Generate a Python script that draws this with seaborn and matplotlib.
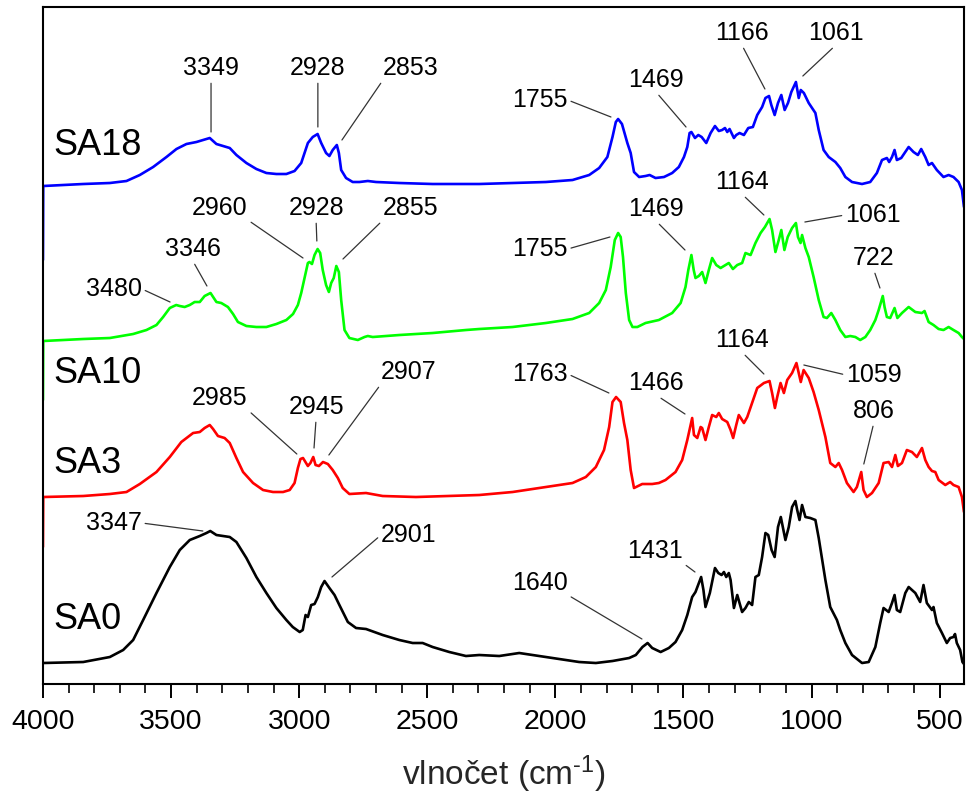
import numpy as np
import pandas as pd
import matplotlib
matplotlib.use("Agg")
import matplotlib.pyplot as plt
from matplotlib.ticker import MultipleLocator
import seaborn as sns

# ---------------- spectra (wavenumber in cm-1, stacked absorbance in a.u.) ----------------
sa18_wn = [4000, 3999, 3843, 3739, 3674, 3622, 3570, 3518, 3479, 3440, 3401, 3375, 3349, 3336,
           3323, 3297, 3271, 3245, 3206, 3167, 3128, 3089, 3050, 3018, 2992, 2979, 2966, 2947,
           2928, 2914, 2895, 2882, 2869, 2853, 2845, 2836, 2817, 2791, 2765, 2732, 2700, 2609,
           2479, 2349, 2297, 2167, 2037, 1933, 1868, 1829, 1797, 1777, 1764, 1755, 1740, 1719,
           1706, 1693, 1673, 1648, 1632, 1609, 1576, 1544, 1518, 1498, 1485, 1476, 1469, 1455,
           1442, 1429, 1411, 1394, 1377, 1362, 1349, 1338, 1329, 1320, 1303, 1294, 1281, 1264,
           1247, 1229, 1212, 1193, 1180, 1166, 1157, 1144, 1131, 1118, 1105, 1092, 1079, 1061,
           1050, 1042, 1030, 1011, 985, 972, 953, 933, 907, 888, 868, 842, 803, 771, 745, 725,
           706, 697, 686, 676, 667, 650, 634, 621, 602, 585, 572, 556, 543, 530, 511, 485, 465,
           446, 426, 413, 405]
sa18_a = [4.24, 4.98, 5.00, 5.01, 5.03, 5.09, 5.17, 5.27, 5.35, 5.40, 5.42, 5.44, 5.46, 5.43,
          5.40, 5.38, 5.36, 5.29, 5.21, 5.15, 5.11, 5.10, 5.10, 5.13, 5.21, 5.31, 5.41, 5.47,
          5.50, 5.41, 5.31, 5.28, 5.34, 5.39, 5.31, 5.14, 5.06, 5.02, 5.02, 5.03, 5.02, 5.01,
          5.00, 5.00, 5.00, 5.01, 5.02, 5.04, 5.09, 5.16, 5.27, 5.47, 5.62, 5.65, 5.60, 5.41,
          5.31, 5.12, 5.07, 5.08, 5.09, 5.06, 5.07, 5.11, 5.17, 5.27, 5.37, 5.51, 5.52, 5.46,
          5.49, 5.47, 5.41, 5.51, 5.58, 5.53, 5.54, 5.56, 5.52, 5.55, 5.46, 5.49, 5.51, 5.49,
          5.56, 5.57, 5.69, 5.77, 5.86, 5.88, 5.79, 5.69, 5.81, 5.89, 5.74, 5.81, 5.92, 6.02,
          5.86, 5.94, 5.91, 5.81, 5.71, 5.54, 5.34, 5.27, 5.22, 5.16, 5.07, 5.02, 5.00, 5.02,
          5.11, 5.24, 5.26, 5.22, 5.27, 5.34, 5.24, 5.26, 5.32, 5.37, 5.32, 5.29, 5.35, 5.27,
          5.19, 5.21, 5.14, 5.07, 5.09, 5.07, 5.02, 4.94, 4.77]

sa10_wn = [4000, 3999, 3843, 3739, 3648, 3596, 3557, 3531, 3505, 3480, 3466, 3447, 3427, 3408,
           3388, 3369, 3346, 3336, 3323, 3304, 3278, 3258, 3239, 3206, 3167, 3128, 3089, 3050,
           3024, 3005, 2992, 2979, 2966, 2960, 2950, 2940, 2928, 2918, 2908, 2895, 2884, 2875,
           2865, 2855, 2845, 2836, 2823, 2804, 2771, 2745, 2732, 2713, 2609, 2479, 2349, 2297,
           2167, 2037, 1933, 1868, 1829, 1803, 1784, 1768, 1755, 1745, 1736, 1725, 1712, 1699,
           1680, 1648, 1596, 1544, 1511, 1492, 1481, 1469, 1460, 1453, 1440, 1427, 1414, 1401,
           1388, 1372, 1355, 1336, 1323, 1307, 1290, 1271, 1258, 1238, 1219, 1199, 1182, 1164,
           1154, 1141, 1128, 1118, 1106, 1093, 1076, 1061, 1053, 1043, 1037, 1024, 1011, 992,
           972, 953, 940, 923, 907, 888, 868, 849, 829, 810, 790, 771, 751, 738, 722, 715, 706,
           693, 676, 665, 647, 621, 595, 569, 559, 543, 524, 504, 485, 465, 446, 426, 413, 405]
sa10_a = [2.84, 3.43, 3.45, 3.46, 3.50, 3.54, 3.59, 3.67, 3.76, 3.79, 3.78, 3.77, 3.79, 3.82,
          3.82, 3.88, 3.91, 3.87, 3.82, 3.81, 3.77, 3.70, 3.62, 3.58, 3.57, 3.57, 3.60, 3.64,
          3.70, 3.79, 3.91, 4.06, 4.21, 4.22, 4.20, 4.29, 4.35, 4.31, 4.14, 3.99, 3.92, 4.01,
          4.06, 4.18, 4.12, 3.84, 3.54, 3.46, 3.44, 3.47, 3.48, 3.47, 3.49, 3.51, 3.54, 3.55,
          3.57, 3.61, 3.65, 3.71, 3.81, 3.94, 4.17, 4.44, 4.51, 4.47, 4.27, 3.91, 3.64, 3.57,
          3.57, 3.61, 3.64, 3.71, 3.81, 3.97, 4.14, 4.29, 4.14, 4.06, 4.08, 4.12, 4.01, 4.14,
          4.26, 4.19, 4.16, 4.19, 4.21, 4.15, 4.19, 4.21, 4.31, 4.29, 4.41, 4.51, 4.57, 4.65,
          4.54, 4.32, 4.44, 4.54, 4.34, 4.47, 4.56, 4.61, 4.47, 4.41, 4.49, 4.36, 4.27, 4.07,
          3.84, 3.67, 3.66, 3.71, 3.64, 3.54, 3.47, 3.48, 3.47, 3.44, 3.47, 3.54, 3.64, 3.74,
          3.88, 3.77, 3.67, 3.66, 3.76, 3.66, 3.71, 3.77, 3.72, 3.71, 3.73, 3.62, 3.59, 3.55,
          3.54, 3.57, 3.54, 3.51, 3.47, 3.45]

sa3_wn = [4000, 3999, 3843, 3739, 3674, 3622, 3557, 3505, 3460, 3414, 3388, 3369, 3349, 3336,
          3317, 3291, 3271, 3245, 3219, 3180, 3141, 3102, 3063, 3037, 3018, 3005, 2995, 2985,
          2966, 2956, 2945, 2936, 2923, 2907, 2888, 2869, 2849, 2830, 2804, 2739, 2674, 2544,
          2414, 2297, 2167, 2037, 1933, 1881, 1842, 1810, 1790, 1777, 1763, 1745, 1732, 1719,
          1706, 1693, 1661, 1622, 1596, 1570, 1531, 1505, 1485, 1466, 1459, 1446, 1433, 1427,
          1414, 1401, 1388, 1372, 1362, 1349, 1329, 1316, 1306, 1294, 1284, 1264, 1251, 1232,
          1212, 1186, 1164, 1154, 1143, 1134, 1121, 1108, 1095, 1076, 1059, 1050, 1042, 1031,
          1011, 992, 972, 946, 927, 907, 894, 881, 862, 836, 823, 806, 797, 784, 764, 738, 719,
          699, 686, 673, 663, 647, 628, 608, 589, 569, 556, 543, 530, 517, 504, 478, 459, 446,
          426, 413, 405]
sa3_a = [1.37, 1.87, 1.88, 1.90, 1.92, 2.00, 2.12, 2.27, 2.42, 2.51, 2.52, 2.56, 2.59, 2.55,
         2.48, 2.46, 2.41, 2.26, 2.12, 2.01, 1.94, 1.92, 1.92, 1.94, 2.01, 2.16, 2.25, 2.26,
         2.18, 2.21, 2.27, 2.19, 2.18, 2.22, 2.20, 2.14, 2.06, 1.96, 1.90, 1.91, 1.88, 1.87,
         1.88, 1.89, 1.92, 1.97, 2.01, 2.07, 2.17, 2.34, 2.57, 2.82, 2.87, 2.82, 2.61, 2.44,
         2.14, 1.96, 2.00, 2.00, 2.01, 2.04, 2.12, 2.24, 2.44, 2.66, 2.49, 2.46, 2.57, 2.56,
         2.44, 2.57, 2.69, 2.67, 2.71, 2.65, 2.62, 2.54, 2.46, 2.59, 2.69, 2.61, 2.67, 2.81,
         2.96, 3.01, 3.03, 2.91, 2.76, 2.87, 3.01, 2.91, 3.04, 3.11, 3.21, 3.11, 3.02, 3.14,
         3.06, 2.92, 2.74, 2.47, 2.21, 2.17, 2.21, 2.14, 2.01, 1.92, 1.97, 2.12, 1.94, 1.87,
         1.91, 2.01, 2.21, 2.22, 2.17, 2.29, 2.18, 2.21, 2.34, 2.32, 2.27, 2.36, 2.24, 2.17,
         2.13, 2.12, 2.04, 1.99, 2.02, 1.99, 1.97, 1.87, 1.72]

sa0_wn = [4000, 3843, 3739, 3687, 3648, 3609, 3557, 3505, 3466, 3427, 3388, 3362, 3347, 3323,
          3271, 3245, 3206, 3167, 3128, 3089, 3050, 3025, 2998, 2986, 2975, 2966, 2953, 2940,
          2927, 2914, 2901, 2882, 2862, 2843, 2810, 2778, 2739, 2674, 2609, 2557, 2518, 2479,
          2414, 2349, 2297, 2219, 2141, 2063, 1985, 1907, 1842, 1777, 1712, 1686, 1660, 1640,
          1622, 1589, 1557, 1531, 1505, 1485, 1466, 1453, 1431, 1422, 1414, 1397, 1377, 1364,
          1351, 1342, 1333, 1323, 1316, 1303, 1290, 1271, 1258, 1245, 1232, 1219, 1206, 1193,
          1180, 1169, 1156, 1144, 1131, 1120, 1102, 1089, 1076, 1063, 1056, 1047, 1037, 1024,
          1005, 985, 972, 946, 927, 901, 888, 868, 842, 803, 777, 751, 732, 719, 699, 686, 676,
          667, 654, 634, 621, 595, 576, 563, 550, 530, 524, 511, 491, 472, 459, 446, 440, 433,
          420, 411, 405]
sa0_a = [0.21, 0.22, 0.27, 0.34, 0.44, 0.64, 0.91, 1.17, 1.34, 1.44, 1.48, 1.51, 1.53, 1.49,
         1.47, 1.42, 1.26, 1.07, 0.91, 0.76, 0.64, 0.57, 0.52, 0.54, 0.69, 0.67, 0.79, 0.80,
         0.87, 0.97, 1.03, 0.96, 0.89, 0.79, 0.62, 0.56, 0.55, 0.49, 0.44, 0.41, 0.41, 0.37,
         0.32, 0.28, 0.29, 0.28, 0.31, 0.28, 0.25, 0.22, 0.21, 0.23, 0.26, 0.29, 0.37, 0.41,
         0.36, 0.32, 0.36, 0.42, 0.54, 0.69, 0.87, 0.92, 1.07, 0.94, 0.77, 0.91, 1.16, 1.11,
         1.09, 1.12, 1.07, 1.11, 1.04, 0.76, 0.89, 0.72, 0.76, 0.82, 0.79, 1.07, 1.09, 1.27,
         1.51, 1.49, 1.34, 1.27, 1.57, 1.67, 1.44, 1.57, 1.77, 1.83, 1.74, 1.64, 1.79, 1.67,
         1.66, 1.64, 1.46, 1.04, 0.77, 0.64, 0.54, 0.41, 0.29, 0.21, 0.22, 0.37, 0.61, 0.76,
         0.72, 0.81, 0.89, 0.74, 0.72, 0.91, 0.97, 0.91, 0.82, 0.99, 0.81, 0.74, 0.77, 0.61,
         0.51, 0.41, 0.46, 0.47, 0.50, 0.41, 0.34, 0.22, 0.20]

samples = ["SA18", "SA10", "SA3", "SA0"]
colors = {"SA18": "#0000ff", "SA10": "#00ff00", "SA3": "#ff0000", "SA0": "#000000"}

# band assignments: (label, pointed wavenumber, pointed absorbance, text x, text y, line origin on text box)
bands = [
    ("3349", 3344, 5.52, 3344, 6.16, (0.5, 0)),
    ("2928", 2927, 5.57, 2927, 6.16, (0.5, 0)),
    ("2853", 2833, 5.44, 2564, 6.16, (0, 0)),
    ("1755", 1783, 5.67, 2060, 5.84, (1, 0.5)),
    ("1469", 1490, 5.57, 1607, 6.04, (0.5, 0)),
    ("1166", 1182, 5.95, 1272, 6.51, (0.5, 0)),
    ("1061", 1034, 6.08, 905, 6.51, (0.5, 0)),
    ("2960", 2985, 4.26, 3309, 4.76, (1, 0)),
    ("2928", 2931, 4.43, 2934, 4.76, (0.5, 0)),
    ("2855", 2829, 4.25, 2564, 4.76, (0, 0)),
    ("3346", 3360, 3.98, 3415, 4.35, (0.5, 0)),
    ("3480", 3504, 3.82, 3723, 3.95, (1, 0.5)),
    ("1755", 1787, 4.47, 2060, 4.35, (1, 0.5)),
    ("1469", 1494, 4.34, 1607, 4.75, (0.5, 0)),
    ("1164", 1186, 4.69, 1272, 5.02, (0.5, 0)),
    ("1061", 1026, 4.62, 761, 4.69, (0, 0.5)),
    ("722", 733, 3.96, 757, 4.26, (0.5, 0)),
    ("2985", 3009, 2.30, 3309, 2.86, (1, 0)),
    ("2945", 2942, 2.36, 2934, 2.77, (0.5, 0)),
    ("2907", 2884, 2.29, 2572, 3.12, (0, 0)),
    ("1763", 1791, 2.91, 2060, 3.10, (1, 0.5)),
    ("1466", 1494, 2.70, 1607, 3.01, (0.5, 0)),
    ("1164", 1186, 3.10, 1272, 3.44, (0.5, 0)),
    ("1059", 1030, 3.19, 757, 3.09, (0, 0.5)),
    ("806", 796, 2.20, 757, 2.73, (0.5, 0)),
    ("3347", 3376, 1.53, 3723, 1.61, (1, 0.5)),
    ("2901", 2872, 1.07, 2572, 1.49, (0, 0.5)),
    ("1640", 1662, 0.45, 2060, 1.01, (1, 0)),
    ("1431", 1455, 1.12, 1611, 1.33, (1, 0)),
]

# sample names written beside each trace
name_pos = {"SA18": (3961, 5.39), "SA10": (3961, 3.11), "SA3": (3961, 2.21), "SA0": (3961, 0.65)}

frames = []
for name, wn, a in [("SA18", sa18_wn, sa18_a), ("SA10", sa10_wn, sa10_a),
                    ("SA3", sa3_wn, sa3_a), ("SA0", sa0_wn, sa0_a)]:
    frames.append(pd.DataFrame({"sample": name, "wn": wn, "A": a, "order": np.arange(len(wn))}))
df = pd.concat(frames, ignore_index=True)

sns.set_style("ticks")
plt.rcParams["font.family"] = ["Liberation Sans", "DejaVu Sans"]
plt.rcParams["mathtext.fontset"] = "custom"
plt.rcParams["mathtext.rm"] = "Liberation Sans"
plt.rcParams["mathtext.it"] = "Liberation Sans:italic"

fig = plt.figure(figsize=(9.7, 8.05), dpi=100)
ax = fig.add_axes([0.0443, 0.1503, 0.9495, 0.8410])

sns.lineplot(data=df, x="wn", y="A", hue="sample", hue_order=samples, palette=colors,
             units="sample", estimator=None, sort=False, legend=False, linewidth=1.9, ax=ax)

ax.set_xlim(4000, 405)
ax.set_ylim(0, 6.77)
ax.set_yticks([])
ax.set_ylabel("")
ax.set_xticks([4000, 3500, 3000, 2500, 2000, 1500, 1000, 500])
ax.xaxis.set_minor_locator(MultipleLocator(100))
ax.tick_params(axis="x", which="major", length=10, width=1.4, direction="out",
               labelsize=20.5, pad=8, colors="black")
ax.tick_params(axis="x", which="minor", length=6.5, width=1.4, direction="out")
for sp in ax.spines.values():
    sp.set_visible(True)
    sp.set_linewidth(1.5)
    sp.set_color("black")

ax.set_xlabel(r"vlnočet (cm$^{\text{-}1}$)", fontsize=24, labelpad=13)

for name in samples:
    x, y = name_pos[name]
    ax.text(x, y, name, fontsize=26, ha="left", va="center", color="black")

for label, px, py, tx, ty, rp in bands:
    ax.annotate(label, xy=(px, py), xytext=(tx, ty), fontsize=18, ha="center", va="center",
                color="black",
                arrowprops=dict(arrowstyle="-", color="#333333", lw=0.9,
                                shrinkA=0, shrinkB=0, relpos=rp))

fig.savefig("out.png", dpi=100)
